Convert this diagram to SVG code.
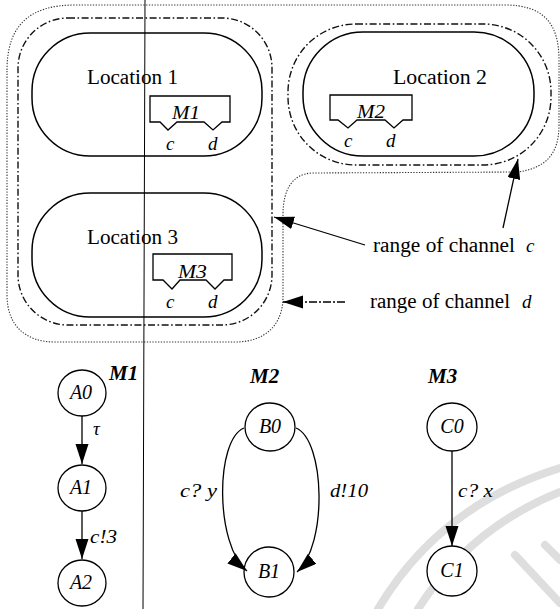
<svg xmlns="http://www.w3.org/2000/svg" width="560" height="609" viewBox="0 0 560 609" font-family="'Liberation Serif', 'DejaVu Serif', 'Times New Roman', serif">
<defs>
<style>
.loc{fill:none;stroke:#000;stroke-width:1.5}
.rc{fill:none;stroke:#333;stroke-width:1.1;stroke-dasharray:1.3 1.5}
.rd{fill:none;stroke:#111;stroke-width:1.4;stroke-dasharray:7 2.5 1.6 2.5}
.box{fill:#fff;stroke:#000;stroke-width:1.3}
.st{fill:#fff;stroke:#000;stroke-width:1.3}
.ln{fill:none;stroke:#000;stroke-width:1.3}
.wm{fill:none;stroke:#dedede;stroke-width:8;stroke-linecap:round}
.lab{font-size:20px}
.it{font-style:italic;font-size:19px}
.mb{font-style:italic;font-weight:bold;font-size:21px}
.sn{font-style:italic;font-size:20px;text-anchor:middle}
</style>
<marker id="ah" markerUnits="userSpaceOnUse" markerWidth="22" markerHeight="14" refX="20" refY="6.5" orient="auto">
<path d="M0,0 L20,6.5 L0,13 Z" fill="#000"/>
</marker>
</defs>

<g id="watermark">
<path class="wm" d="M378,609 Q440,505 560,468"/>
<path class="wm" d="M418,609 Q470,528 560,492"/>
<path class="wm" d="M515,555 L560,603"/>
<path class="wm" d="M545,545 L560,560"/>
</g>

<g id="ranges">
<path id="range-c" class="rc" d="M7,70 C7,25 30,5 75,5 L505,5 C545,5 559,25 559,60 L559,125 C559,155 545,168 518,172 L312,173 C292,174 283,190 283,215 L283,297 C283,325 265,342 235,342 L55,342 C25,342 7,325 7,295 Z"/>
<rect id="range-d-13" class="rd" x="18" y="18" width="254" height="307" rx="50" ry="50"/>
<rect id="range-d-2" class="rd" x="288" y="24" width="263" height="141" rx="68" ry="68"/>
</g>

<line id="divider" x1="145" y1="0" x2="143" y2="609" stroke="#000" stroke-width="1"/>

<g id="location1">
<rect class="loc" x="32" y="33" width="230" height="123" rx="58" ry="58"/>
<text class="lab" x="87" y="84" textLength="91" lengthAdjust="spacingAndGlyphs">Location 1</text>
</g>
<g id="m1-box">
<path class="box" d="M150,96 H230 V122 H222 L213,130 L204,122 H177 L168,130 L160,122 H150 Z"/>
<text class="it" x="172" y="119" textLength="28" lengthAdjust="spacingAndGlyphs">M1</text>
<text class="it" x="166" y="150">c</text>
<text class="it" x="208" y="150">d</text>
</g>

<g id="location2">
<rect class="loc" x="303" y="32" width="231" height="124" rx="60" ry="60"/>
<text class="lab" x="393" y="84" textLength="94" lengthAdjust="spacingAndGlyphs">Location 2</text>
</g>
<g id="m2-box">
<path class="box" d="M330,95 H412 V120 H403 L394,128 L385,120 H357 L348,128 L338,120 H330 Z"/>
<text class="it" x="357" y="118" textLength="28" lengthAdjust="spacingAndGlyphs">M2</text>
<text class="it" x="344" y="147">c</text>
<text class="it" x="386" y="147">d</text>
</g>

<g id="location3">
<rect class="loc" x="32" y="193" width="230" height="124" rx="58" ry="58"/>
<text class="lab" x="87" y="244" textLength="91" lengthAdjust="spacingAndGlyphs">Location 3</text>
</g>
<g id="m3-box">
<path class="box" d="M153,254 H232 V280 H224 L215,289 L206,280 H180 L172,289 L163,280 H153 Z"/>
<text class="it" x="178" y="278" textLength="29" lengthAdjust="spacingAndGlyphs">M3</text>
<text class="it" x="166" y="308">c</text>
<text class="it" x="208" y="308">d</text>
</g>

<g id="label-range-c">
<text class="lab" x="373" y="252" textLength="142" lengthAdjust="spacingAndGlyphs">range of channel</text>
<text class="it" x="526" y="252">c</text>
</g>
<g id="label-range-d">
<text class="lab" x="370" y="308" textLength="140" lengthAdjust="spacingAndGlyphs">range of channel</text>
<text class="it" x="522" y="308">d</text>
</g>

<g id="A0"><ellipse class="st" cx="82" cy="393" rx="24" ry="23"/><text class="sn" x="81" y="399">A0</text></g>
<g id="A1"><ellipse class="st" cx="82" cy="488" rx="24" ry="23"/><text class="sn" x="81" y="494">A1</text></g>
<g id="A2"><ellipse class="st" cx="82" cy="583" rx="24" ry="23"/><text class="sn" x="81" y="589">A2</text></g>
<g id="B0"><ellipse class="st" cx="270" cy="427" rx="25" ry="24"/><text class="sn" x="270" y="433">B0</text></g>
<g id="B1"><ellipse class="st" cx="269" cy="572" rx="25" ry="25"/><text class="sn" x="269" y="578">B1</text></g>
<g id="C0"><ellipse class="st" cx="452" cy="427" rx="25" ry="24"/><text class="sn" x="452" y="433">C0</text></g>
<g id="C1"><ellipse class="st" cx="452" cy="571" rx="25" ry="25"/><text class="sn" x="452" y="577">C1</text></g>

<g id="titles">
<text class="mb" x="109" y="380">M1</text>
<text class="mb" x="250" y="383">M2</text>
<text class="mb" x="428" y="383">M3</text>
</g>

<g id="connectors">
<line class="ln" x1="365" y1="245" x2="274" y2="217" marker-end="url(#ah)"/>
<line class="ln" x1="503" y1="228" x2="518" y2="159" marker-end="url(#ah)"/>
<line class="ln" x1="345" y1="302" x2="283" y2="302" stroke-dasharray="8 2 2 2" marker-end="url(#ah)"/>
<line class="ln" x1="82" y1="416" x2="82" y2="464" marker-end="url(#ah)"/>
<line class="ln" x1="82" y1="511" x2="82" y2="559" marker-end="url(#ah)"/>
<path class="ln" d="M244,428 C215,440 215,545 247,571" marker-end="url(#ah)"/>
<path class="ln" d="M296,428 C325,440 328,545 297,572" marker-end="url(#ah)"/>
<line class="ln" x1="452" y1="451" x2="452" y2="546" marker-end="url(#ah)"/>
<text class="it" x="93" y="435">τ</text>
<text class="it" x="90" y="543" textLength="27" lengthAdjust="spacingAndGlyphs">c!3</text>
<text class="it" x="180" y="497" textLength="37" lengthAdjust="spacingAndGlyphs">c? y</text>
<text class="it" x="330" y="497" textLength="38" lengthAdjust="spacingAndGlyphs">d!10</text>
<text class="it" x="458" y="497" textLength="35" lengthAdjust="spacingAndGlyphs">c? x</text>
</g>
</svg>
